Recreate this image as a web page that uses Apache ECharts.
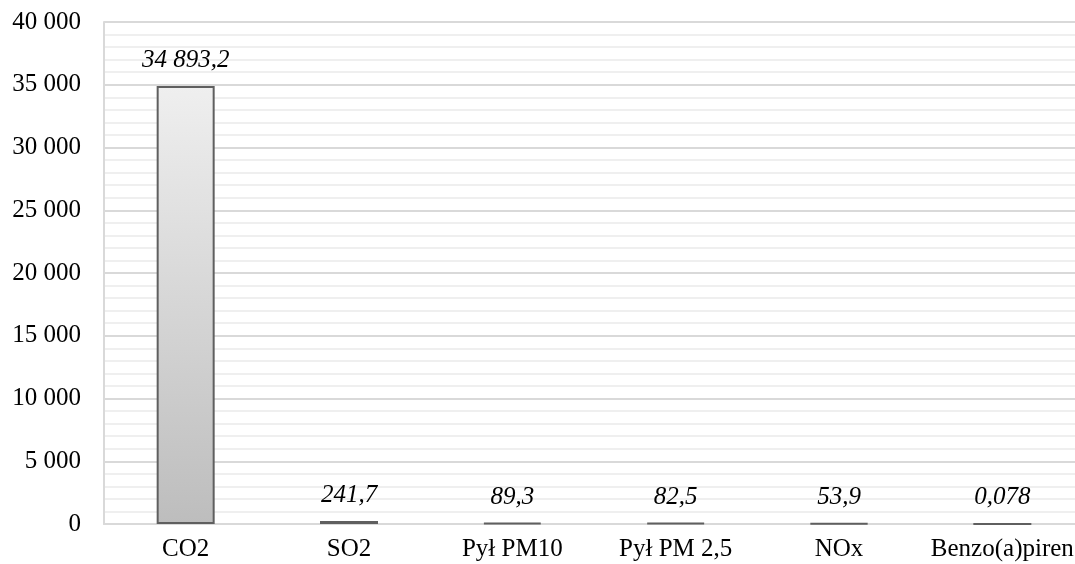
<!DOCTYPE html>
<html>
<head>
<meta charset="utf-8">
<script src="https://cdn.jsdelivr.net/npm/echarts@6/dist/echarts.min.js"></script>
<style>
html, body { margin: 0; padding: 0; background: #fff; overflow: hidden; }
#chart { width: 1095px; height: 564px; }
</style>
</head>
<body>
<div id="chart"></div>
<script>
// dane
var categories = ['CO2', 'SO2', 'Pył PM10', 'Pył PM 2,5', 'NOx', 'Benzo(a)piren'];
var values = [34893.2, 241.7, 89.3, 82.5, 53.9, 0.078];
var valueLabels = ['34 893,2', '241,7', '89,3', '82,5', '53,9', '0,078'];

function fmt(v) {
    return String(v).replace(/\B(?=(\d{3})+(?!\d))/g, ' ');
}

var chart = echarts.init(document.getElementById('chart'));

var option = {
    animation: false,
    backgroundColor: '#fff',
    textStyle: { fontFamily: '"Liberation Serif", serif' },
    grid: { left: 104, top: 22, bottom: 40, width: 980 },
    xAxis: {
        type: 'category',
        data: categories,
        axisLine: { lineStyle: { color: '#d9d9d9', width: 2 } },
        axisTick: { show: false },
        axisLabel: { color: '#000', fontSize: 25, margin: 13, interval: 0 }
    },
    yAxis: {
        type: 'value',
        min: 0,
        max: 40000,
        interval: 5000,
        axisLine: { show: true, lineStyle: { color: '#d9d9d9', width: 2 } },
        axisTick: { show: false },
        axisLabel: { color: '#000', fontSize: 25, margin: 23, formatter: fmt },
        splitLine: { lineStyle: { color: '#d9d9d9', width: 2 } },
        minorTick: { show: false, splitNumber: 5 },
        minorSplitLine: { show: true, lineStyle: { color: '#efefef', width: 2 } }
    },
    series: [{
        type: 'bar',
        data: values,
        barWidth: 58,
        itemStyle: {
            color: new echarts.graphic.LinearGradient(0, 0, 0, 1, [
                { offset: 0, color: '#efefef' },
                { offset: 1, color: '#bdbdbd' }
            ]),
            borderColor: '#5f5f5f',
            borderWidth: 2
        },
        label: {
            show: true,
            position: 'top',
            distance: 13,
            color: '#000',
            fontSize: 25,
            fontStyle: 'italic',
            fontFamily: '"Liberation Serif", serif',
            formatter: function (p) { return valueLabels[p.dataIndex]; }
        }
    }]
};

chart.setOption(option);
</script>
</body>
</html>
